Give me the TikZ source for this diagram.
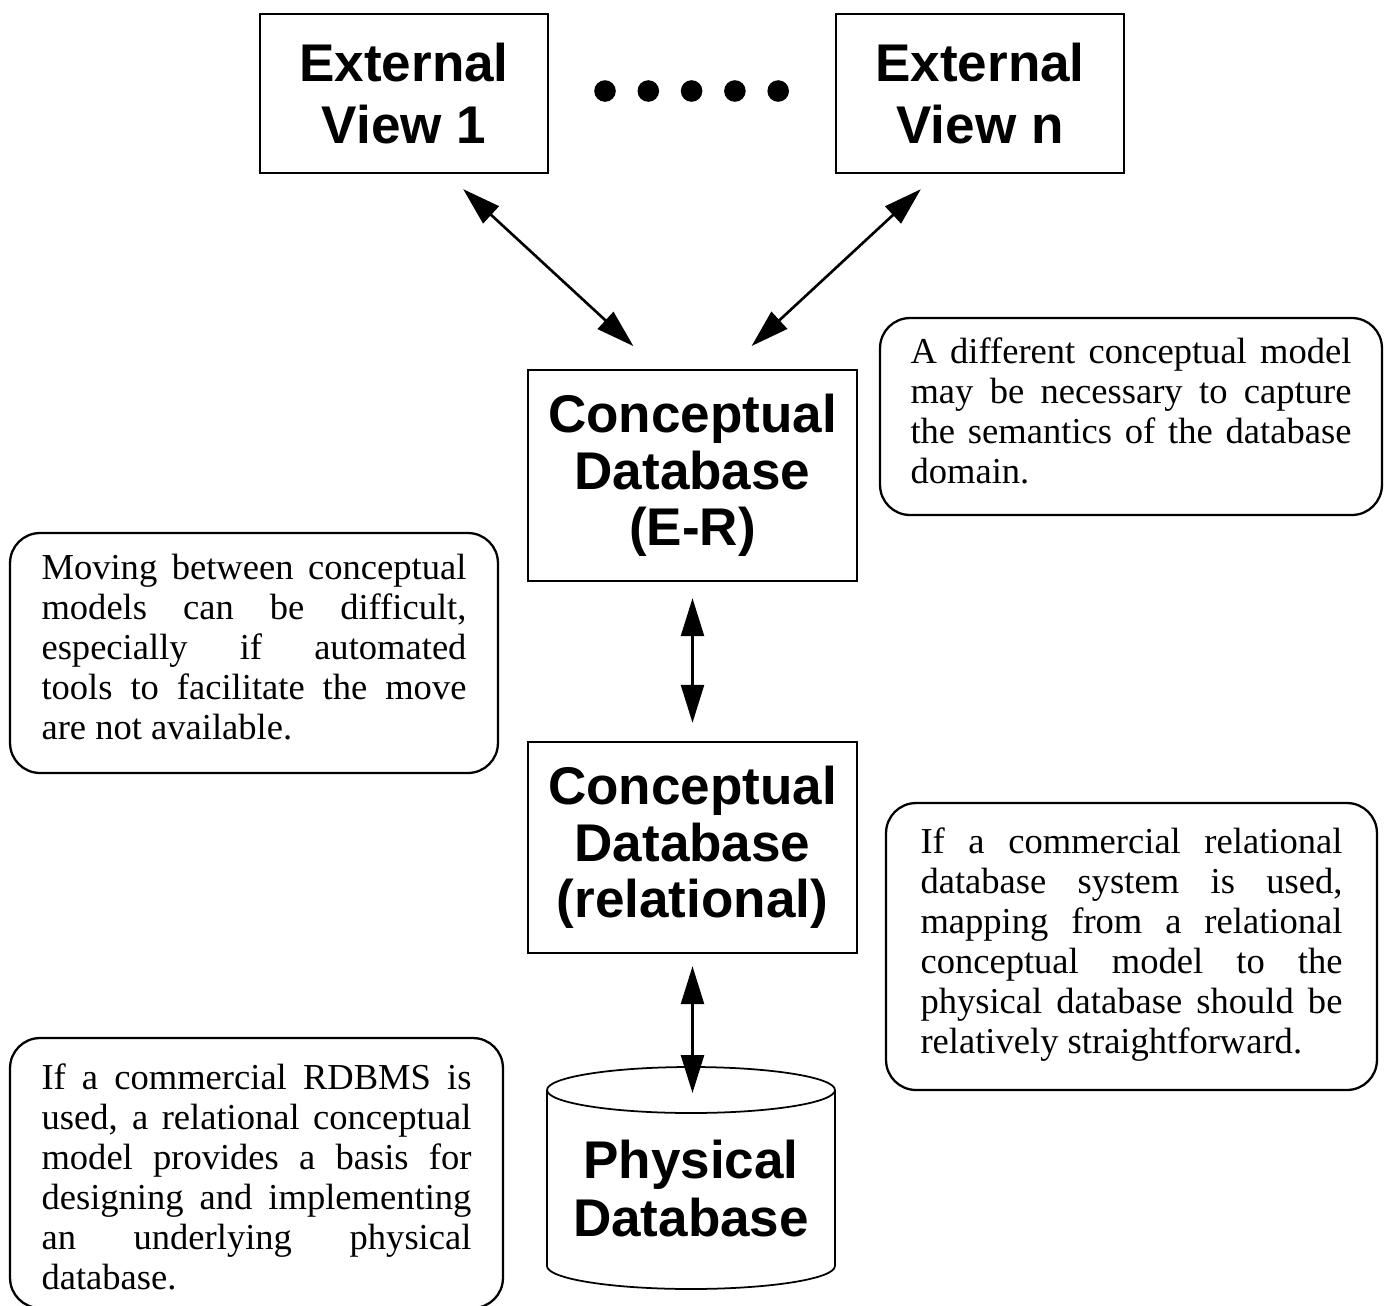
\documentclass[tikz,border=0pt]{standalone}
\usepackage{fontspec}
\setmainfont{Liberation Serif}
\newfontfamily\labelfont{Liberation Sans}
\usetikzlibrary{arrows.meta, calc}
\tolerance=10000
\hyphenpenalty=10000

\begin{document}
\begin{tikzpicture}[x=0.02cm, y=-0.02cm,
                    level/.style={draw, line width=1.4pt, inner sep=0pt, align=center, font=\labelfont\bfseries\fontsize{30.2pt}{32.2pt}\selectfont},
                    view/.style={level, minimum width=5.76cm, minimum height=3.18cm, font=\labelfont\bfseries\fontsize{30.2pt}{35.3pt}\selectfont},
                    schema/.style={level, minimum width=6.58cm, minimum height=4.22cm},
                    note/.style={draw, rounded corners=0.6cm, line width=1.3pt, inner sep=0pt, align=justify, font=\fontsize{20.8pt}{22.76pt}\selectfont},
                    mapping arrow/.style={{Triangle[length=0.76cm,width=0.46cm]}-{Triangle[length=0.76cm,width=0.46cm]}, line width=1.5pt}]
  \useasboundingbox (0,0) rectangle (1384,1306);
  \clip (0,0) rectangle (1384,1306);
  \fill[white] (0,0) rectangle (1384,1306);

  \node[view] (ext1) at (404,93.5) {External\\View 1};
  \node[view] (extn) at (980,93.5) {External\\View n};
  \foreach \i in {0,...,4}
    \fill (605+43.3*\i,91) circle[radius=0.216cm];

  \node[schema] (er) at (692.5,475.5) {Conceptual\\Database\\(E-R)};
  \node[schema] (rel) at (692.5,847.5) {Conceptual\\Database\\(relational)};

  \draw[line width=1pt] (691,1090) ellipse[x radius=2.88cm, y radius=0.46cm];
  \draw[line width=1pt] (547,1090) -- (547,1266) arc[start angle=180, end angle=360, x radius=2.88cm, y radius=0.46cm] -- (835,1090);
  \node[align=center, font=\labelfont\bfseries\fontsize{30.2pt}{33pt}\selectfont] (phys) at (691,1189) {Physical\\Database};
  \coordinate (physcap) at (692.5,1093);

  \node[note, minimum width=10.04cm, minimum height=3.94cm, text width=8.82cm] (diffnote) at (1131,416.5) {%
    A different conceptual model\linebreak may be necessary to capture\linebreak the semantics of the database\linebreak domain.\strut};
  \node[note, minimum width=9.76cm, minimum height=4.8cm, text width=8.5cm] (movenote) at (254,653) {%
    Moving between conceptual\linebreak models can be difficult,\linebreak especially if automated\linebreak tools to facilitate the move\linebreak are not available.\strut};
  \node[note, minimum width=9.82cm, minimum height=5.74cm, text width=8.44cm] (mapnote) at (1131.5,946.5) {%
    If a commercial relational\linebreak database system is used,\linebreak mapping from a relational\linebreak conceptual model to the\linebreak physical database should be\linebreak relatively straightforward.\strut};
  \node[note, minimum width=9.86cm, minimum height=5.4cm, text width=8.6cm] (rdbmsnote) at (256.5,1173) {%
    \rule{0pt}{0.9cm}If a commercial RDBMS is\linebreak used, a relational conceptual\linebreak model provides a basis for\linebreak designing and implementing\linebreak an underlying physical\linebreak database.\strut};

  \draw[mapping arrow, shorten <=0.44cm, shorten >=0.67cm] ($(ext1.south)+(43,0)$) -- ($(er.north)+(-34.5,0)$);
  \draw[mapping arrow, shorten <=0.44cm, shorten >=0.67cm] ($(extn.south)+(-43,0)$) -- ($(er.north)+(34.5,0)$);
  \draw[mapping arrow, shorten <=0.32cm, shorten >=0.36cm] (er.south) -- (rel.north);
  \draw[mapping arrow, shorten <=0.24cm] (rel.south) -- (physcap);
\end{tikzpicture}
\end{document}
